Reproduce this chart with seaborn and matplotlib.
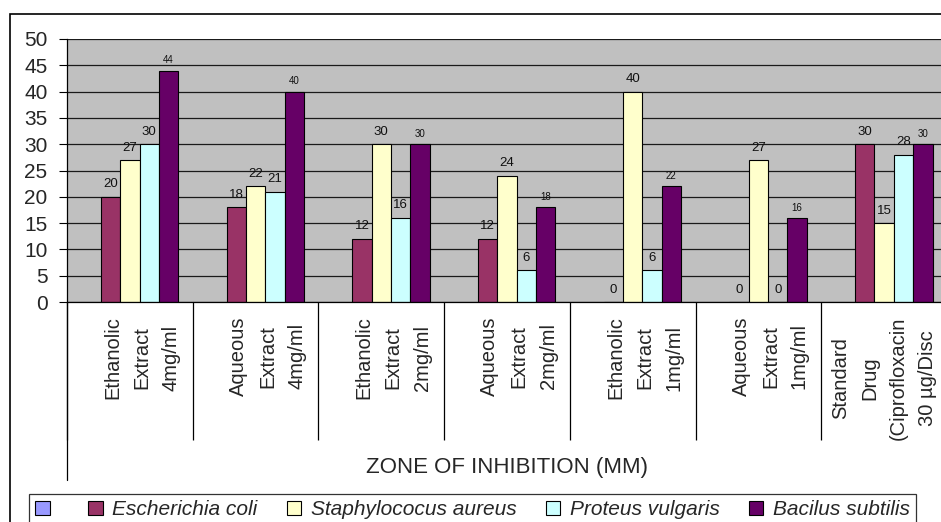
import numpy as np
import pandas as pd
import seaborn as sns
from matplotlib import pyplot as plt
from matplotlib.patches import Patch, Rectangle
from matplotlib.transforms import ScaledTranslation, blended_transform_factory

# data
categories = [
    "Ethanolic\nExtract\n4mg/ml",
    "Aqueous\nExtract\n4mg/ml",
    "Ethanolic\nExtract\n2mg/ml",
    "Aqueous\nExtract\n2mg/ml",
    "Ethanolic\nExtract\n1mg/ml",
    "Aqueous\nExtract\n1mg/ml",
    "Standard\nDrug\n(Ciprofloxacin\n30 \u00b5g/Disc",
]
series = ["", "Escherichia coli", "Staphylococus aureus", "Proteus vulgaris", "Bacilus subtilis"]
blank = [np.nan] * 7
e_coli = [20, 18, 12, 12, 0, 0, 30]
s_aureus = [27, 22, 30, 24, 40, 27, 15]
p_vulgaris = [30, 21, 16, 6, 6, 0, 28]
b_subtilis = [44, 40, 30, 18, 22, 16, 30]
colors = ["#9999FF", "#993366", "#FFFFCC", "#CCFFFF", "#660066"]

df = pd.DataFrame({
    "category": categories * 5,
    "organism": np.repeat(series, 7),
    "zone": blank + e_coli + s_aureus + p_vulgaris + b_subtilis,
})

sns.set_style("white")
plt.rcParams["font.family"] = ["Liberation Sans", "DejaVu Sans"]

fig = plt.figure(figsize=(9.41, 5.22), dpi=100)
ax = fig.add_axes([67 / 941, 220 / 522, 880 / 941, 263 / 522])

sns.barplot(df, x="category", y="zone", hue="organism", hue_order=series,
            order=categories, palette=colors, width=0.77, saturation=1,
            edgecolor="black", linewidth=0.8, errorbar=None, legend=False, ax=ax)

ax.set_facecolor("#C0C0C0")
ax.set_xlim(-0.5, 6.5)
ax.set_ylim(0, 50)
ax.set_yticks(range(0, 51, 5))
ax.yaxis.grid(True, color="#1a1a1a", linewidth=0.9)
ax.set_axisbelow(True)
for s in ["top", "right"]:
    ax.spines[s].set_visible(False)
for s in ["left", "bottom"]:
    ax.spines[s].set_color("black")
    ax.spines[s].set_linewidth(0.9)

ax.tick_params(axis="y", direction="out", length=6, width=0.8, color="black",
               pad=8, labelsize=15, left=True)
ax.set_ylabel("")

# category labels, rotated, hanging from the axis
ax.tick_params(axis="x", which="major", length=0, pad=10.5)
ax.set_xticks(range(7))
ax.set_xticklabels(categories, rotation=90, fontsize=14.5, linespacing=1.67)
shift = ScaledTranslation(0.12, 0, fig.dpi_scale_trans)
for i, lab in enumerate(ax.get_xticklabels()):
    lab.set_va("top")
    lab.set_multialignment("center")
    if i < 6:
        lab.set_transform(lab.get_transform() + shift)

# separators between categories
ax.set_xticks(np.arange(-0.5, 7, 1), minor=True)
ax.tick_params(axis="x", which="minor", direction="out", length=99, width=0.9,
               color="black", bottom=True)
trans = blended_transform_factory(ax.transData, ax.transAxes)
ax.plot([-0.5, -0.5], [0, -178 / 263], color="black", lw=0.9,
        transform=trans, clip_on=False)

ax.set_xlabel("ZONE OF INHIBITION (MM)", fontsize=16)
ax.xaxis.set_label_coords(0.5, -166 / 263)
ax.xaxis.label.set_va("center")

# value labels
for k, cont in enumerate(ax.containers):
    vals = [blank, e_coli, s_aureus, p_vulgaris, b_subtilis][k]
    if k == 0:
        continue
    small = k == 4
    ax.bar_label(cont, labels=[str(v) for v in vals],
                 fontsize=7 if small else 9.5,
                 padding=3.8 if small else 4.6, color="#111111")

# legend
handles = [Patch(facecolor=c, edgecolor="black", linewidth=0.8) for c in colors]
leg = fig.legend(handles, series, loc="upper left",
                 bbox_to_anchor=(29 / 941, 1 - 494 / 522), ncol=5,
                 prop={"style": "italic", "size": 15}, frameon=True,
                 fancybox=False, borderaxespad=0, borderpad=0.3,
                 handlelength=0.7, handleheight=0.7, handletextpad=0.45,
                 columnspacing=1.4)
leg.get_frame().set_edgecolor("black")
leg.get_frame().set_linewidth(0.9)

# outer chart border
fig.patches.append(Rectangle((10 / 941, -0.1), 1.2, 0.1 + (522 - 14) / 522,
                             transform=fig.transFigure, fill=False,
                             edgecolor="black", linewidth=1.2))

fig.savefig("out.png", dpi=100)
